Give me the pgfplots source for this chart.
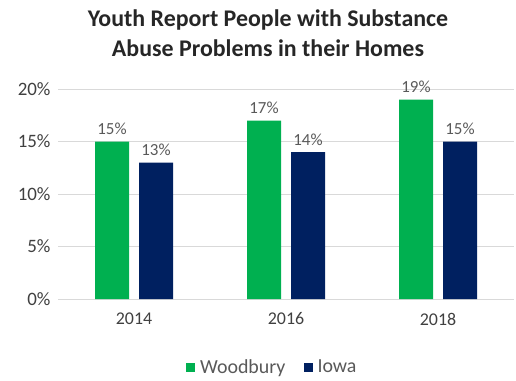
\documentclass[border=0pt]{standalone}
\usepackage{pgfplots}
\pgfplotsset{compat=1.18}
\usepackage{fontspec}
\setmainfont{Carlito}
\definecolor{wgreen}{HTML}{00B050}
\definecolor{inavy}{HTML}{002060}
\definecolor{lblgray}{HTML}{595959}
\definecolor{gridgray}{HTML}{D9D9D9}
\begin{document}
\begin{tikzpicture}[x=1bp,y=1bp]
\path[use as bounding box] (0,0) rectangle (516,380);
\begin{axis}[
  at={(58bp,81bp)}, anchor=south west,
  scale only axis, width=456bp, height=210bp,
  xmin=-0.5, xmax=2.5, ymin=0, ymax=20,
  /pgf/number format/assume math mode=true,
  xtick={0,1,2}, xticklabels={2014,2016,2018},
  ytick={0,5,10,15,20}, yticklabels={0\%,5\%,10\%,15\%,20\%},
  ymajorgrids, major grid style={gridgray, line width=0.8bp},
  axis line style={draw=none}, tick style={draw=none},
  ticklabel style={text=black!75},
  yticklabel style={font=\fontsize{19}{21}\selectfont, xshift=-4bp},
  xticklabel style={font=\fontsize{18}{20}\selectfont, yshift=-6bp},
  ybar, bar width=34bp,
  nodes near coords={\pgfmathprintnumber{\pgfplotspointmeta}\%},
  nodes near coords style={font=\fontsize{17}{19}\selectfont, text=lblgray, yshift=3bp},
  legend columns=2,
  legend style={at={(0.47,-0.325)}, anchor=center, draw=none, fill=none,
    inner sep=1bp,
    font=\fontsize{20}{22}\selectfont, text=black!65,
    /tikz/every odd column/.append style={column sep=3bp},
    /tikz/every even column/.append style={column sep=16bp}},
  legend image code/.code={\fill[#1] (0bp,-4.5bp) rectangle (9bp,4.5bp);},
]
\addplot[fill=wgreen, draw=none, bar shift=-22bp] coordinates {(0,15) (1,17) (2,19)};
\addplot[fill=inavy, draw=none, bar shift=22bp] coordinates {(0,13) (1,14) (2,15)};
\legend{Woodbury, Iowa}
\end{axis}
\node[font=\bfseries\fontsize{24}{30}\selectfont, align=center, text=black!85] at (268,347)
  {Youth Report People with Substance\\Abuse Problems in their Homes};
\end{tikzpicture}
\end{document}
